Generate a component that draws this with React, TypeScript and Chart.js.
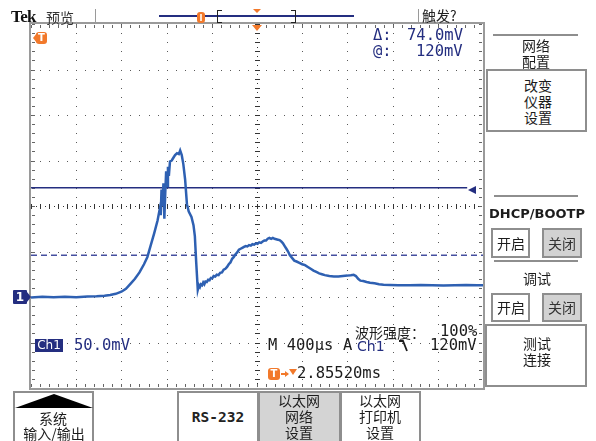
import React, { useEffect, useRef } from "react";
import { Chart, registerables } from "chart.js";

Chart.register(...registerables);

// ---- data (time in µs relative to trigger, amplitude in mV) ----
const traceTimeUs = [
  -2000, -1900, -1800, -1700, -1600, -1500, -1420, -1350, -1300, -1250, -1200, -1160, -1120, -1080, -1040, -1000,
  -970, -940, -910, -880, -860, -852, -845, -836, -828, -820, -812, -804, -796, -788, -780, -770, -755, -740,
  -725, -708, -692, -680, -666, -652, -636, -620, -604, -580, -562, -550, -538, -524, -514, -505, -496, -486,
  -476, -466, -456, -444, -432, -420, -408, -396, -384, -370, -356, -340, -326, -310, -295, -280, -265, -250,
  -235, -220, -205, -190, -175, -160, -145, -130, -115, -100, -85, -70, -55, -40, -25, -10, 5, 20, 35, 50, 65,
  80, 95, 110, 125, 140, 155, 170, 185, 200, 215, 230, 245, 260, 275, 290, 310, 330, 350, 375, 400, 425, 450,
  475, 500, 525, 550, 575, 600, 640, 680, 720, 760, 800, 830, 855, 875, 895, 915, 940, 970, 1000, 1040, 1080,
  1120, 1180, 1250, 1350, 1450, 1550, 1650, 1750, 1850, 1950, 2000,
];
const traceMv = [
  -0.5, 0.3, -0.4, 0.2, -0.3, 0.6, 0.8, 1.5, 2.3, 3.5, 5.8, 9, 14.5, 20, 27, 36,
  44, 57, 70, 84, 97, 90, 118, 100, 125, 86, 114, 138, 122, 143, 133, 149, 150, 153,
  156, 158, 157, 161, 156, 146, 129, 102, 94, 88, 79, 67, 38, 8, 13, 11, 14, 13,
  16, 14, 17, 16.5, 19, 18.5, 21, 20.5, 23, 22.5, 24.5, 24, 26.5, 27, 30, 31, 33, 36,
  38, 42, 44, 47, 49, 52, 53, 54, 55, 56, 55.5, 57, 56.5, 58, 57.5, 59, 58.5, 60, 59.5, 61, 62,
  62, 64, 65, 64, 65, 64, 63.5, 63, 62.5, 61, 59, 56, 53, 50, 46, 43, 40, 39, 37.5, 36, 35, 33,
  31, 29, 27.5, 26, 25, 24, 23, 22.5, 22.5, 23, 23.5, 24, 24.5, 23, 20, 18, 17.5, 16.5, 15.6, 15, 14,
  13.5, 13.2, 13, 12.8, 13.2, 13, 12.7, 13, 13.2, 12.9, 13,
];
const cursorLevelsMv = [120, 46];
const solidCursorEndUs = 1860;
const timeRangeUs = [-2000, 2000];
const voltRangeMv = [-100, 300];
const timePerDivUs = 400;
const voltPerDivMv = 50;

// ---- styles ----
const NAVY = "rgb(36,46,128)";
const ORANGE = "#f2792b";
const INK = "#1c1c1c";
const CJK = '"Noto Sans CJK SC", sans-serif';
const MONO = '"DejaVu Sans Mono", monospace';
const BOXBORDER = "#8e8e8e";

const graticule = {
  id: "graticule",
  beforeDatasetsDraw(chart: any) {
    const { ctx, chartArea: a, scales } = chart;
    const xs = scales.x;
    const ys = scales.y;
    const px = (t: number) => Math.round(xs.getPixelForValue(t));
    const py = (v: number) => Math.round(ys.getPixelForValue(v));
    const [t0, t1] = timeRangeUs;
    const [v0, v1] = voltRangeMv;
    const tc = (t0 + t1) / 2;
    const vc = (v0 + v1) / 2;
    ctx.save();
    ctx.fillStyle = "#5a5a5a";
    for (let t = t0 + timePerDivUs; t < t1; t += timePerDivUs) {
      if (t === tc) continue;
      for (let v = v0; v <= v1; v += voltPerDivMv / 5) ctx.fillRect(px(t), py(v), 1, 1);
    }
    for (let v = v0 + voltPerDivMv; v < v1; v += voltPerDivMv) {
      if (v === vc) continue;
      for (let t = t0; t <= t1; t += timePerDivUs / 5) ctx.fillRect(px(t), py(v), 1, 1);
    }
    ctx.fillStyle = "#333";
    for (let t = t0; t <= t1; t += timePerDivUs / 10) ctx.fillRect(px(t), py(vc), 1, 1);
    for (let t = t0; t <= t1; t += timePerDivUs / 5) ctx.fillRect(px(t), py(vc) - 2, 1, 5);
    for (let v = v0; v <= v1; v += voltPerDivMv / 10) ctx.fillRect(px(tc), py(v), 1, 1);
    for (let v = v0; v <= v1; v += voltPerDivMv / 5) ctx.fillRect(px(tc) - 2, py(v), 5, 1);
    ctx.fillStyle = "#666";
    for (let t = t0; t <= t1; t += timePerDivUs / 5) {
      ctx.fillRect(px(t), Math.round(a.top) + 1, 1, 3);
      ctx.fillRect(px(t), Math.round(a.bottom) - 4, 1, 3);
    }
    for (let v = v0; v <= v1; v += voltPerDivMv / 5) {
      ctx.fillRect(Math.round(a.left) + 1, py(v), 3, 1);
      ctx.fillRect(Math.round(a.right) - 4, py(v), 3, 1);
    }
    ctx.strokeStyle = "#9a9a9a";
    ctx.lineWidth = 2;
    ctx.strokeRect(Math.round(a.left) - 1, Math.round(a.top) - 1, Math.round(a.right - a.left) + 2, Math.round(a.bottom - a.top) + 2);
    ctx.restore();
  },
};

type TP = {
  x: number;
  y: number;
  children: React.ReactNode;
  size?: number;
  color?: string;
  font?: string;
  weight?: number;
  center?: boolean;
  ls?: number;
};
const Txt = ({ x, y, children, size = 14, color = INK, font = CJK, weight = 400, center = false, ls = 0 }: TP) => {
  const lh = size + 4;
  return (
    <div
      style={{
        position: "absolute",
        left: x,
        top: y - lh / 2,
        lineHeight: lh + "px",
        fontSize: size,
        fontFamily: font,
        fontWeight: weight,
        color,
        whiteSpace: "nowrap",
        letterSpacing: ls,
        transform: center ? "translateX(-50%)" : undefined,
      }}
    >
      {children}
    </div>
  );
};

const Box = ({ x, y, w, h, fill = "#fff" }: { x: number; y: number; w: number; h: number; fill?: string }) => (
  <div
    style={{
      position: "absolute",
      left: x,
      top: y,
      width: w,
      height: h,
      boxSizing: "border-box",
      border: `2px solid ${BOXBORDER}`,
      background: fill,
    }}
  />
);

const HLine = ({ x1, x2, y, color = BOXBORDER, w = 2 }: { x1: number; x2: number; y: number; color?: string; w?: number }) => (
  <div style={{ position: "absolute", left: x1, top: y - w / 2, width: x2 - x1, height: w, background: color }} />
);
const VLine = ({ x, y1, y2, color = "#9a9a9a", w = 1 }: { x: number; y1: number; y2: number; color?: string; w?: number }) => (
  <div style={{ position: "absolute", left: x, top: y1, width: w, height: y2 - y1, background: color }} />
);

const Tri = ({ x, y, w, h, dir, color }: { x: number; y: number; w: number; h: number; dir: "down" | "left" | "right" | "up"; color: string }) => {
  const s: React.CSSProperties = { position: "absolute", left: x, top: y, width: 0, height: 0 };
  if (dir === "down") Object.assign(s, { borderLeft: `${w / 2}px solid transparent`, borderRight: `${w / 2}px solid transparent`, borderTop: `${h}px solid ${color}` });
  if (dir === "up") Object.assign(s, { borderLeft: `${w / 2}px solid transparent`, borderRight: `${w / 2}px solid transparent`, borderBottom: `${h}px solid ${color}` });
  if (dir === "left") Object.assign(s, { borderTop: `${h / 2}px solid transparent`, borderBottom: `${h / 2}px solid transparent`, borderRight: `${w}px solid ${color}` });
  if (dir === "right") Object.assign(s, { borderTop: `${h / 2}px solid transparent`, borderBottom: `${h / 2}px solid transparent`, borderLeft: `${w}px solid ${color}` });
  return <div style={s} />;
};

const Badge = ({ x, y, w, h, bg, children, size = 12, font = '"DejaVu Sans", sans-serif', weight = 700, radius = 2 }: any) => (
  <div
    style={{
      position: "absolute",
      left: x,
      top: y,
      width: w,
      height: h,
      background: bg,
      color: "#fff",
      borderRadius: radius,
      fontFamily: font,
      fontWeight: weight,
      fontSize: size,
      lineHeight: h + "px",
      textAlign: "center",
    }}
  >
    {children}
  </div>
);

export default function App() {
  const ref = useRef<HTMLCanvasElement>(null);
  useEffect(() => {
    const traceData = traceTimeUs.map((t, i) => ({ x: t, y: traceMv[i] }));
    const chart = new Chart(ref.current as HTMLCanvasElement, {
      type: "line",
      data: {
        datasets: [
          { data: traceData, borderColor: "rgb(46,96,178)", borderWidth: 2.5, pointRadius: 0, tension: 0, fill: false },
          {
            data: [
              { x: timeRangeUs[0], y: cursorLevelsMv[0] },
              { x: solidCursorEndUs, y: cursorLevelsMv[0] },
            ],
            borderColor: NAVY,
            borderWidth: 1.5,
            pointRadius: 0,
          },
          {
            data: [
              { x: timeRangeUs[0], y: cursorLevelsMv[1] },
              { x: timeRangeUs[1], y: cursorLevelsMv[1] },
            ],
            borderColor: "rgb(70,80,160)",
            borderWidth: 1.5,
            borderDash: [6, 4],
            pointRadius: 0,
          },
        ],
      } as any,
      options: {
        animation: false,
        responsive: false,
        events: [],
        layout: { padding: { left: 31, top: 24, right: 113, bottom: 53 } },
        plugins: { legend: { display: false }, tooltip: { enabled: false } },
        scales: {
          x: { type: "linear", min: timeRangeUs[0], max: timeRangeUs[1], display: false },
          y: { type: "linear", min: voltRangeMv[0], max: voltRangeMv[1], display: false },
        },
      },
      plugins: [graticule],
    });
    return () => chart.destroy();
  }, []);

  return (
    <div style={{ position: "fixed", left: 0, top: 0, width: 596, height: 441, background: "#fff", overflow: "hidden" }}>
      <canvas ref={ref} width={596} height={441} style={{ position: "absolute", left: 0, top: 0 }} />

      {/* top bar */}
      <Txt x={11} y={16} size={17} font='"Liberation Serif", serif' weight={700} ls={-0.6} color="#111">Tek</Txt>
      <Txt x={46} y={17} size={14} color="#333">预览</Txt>
      <VLine x={95} y1={9} y2={24} />
      <HLine x1={159} x2={354} y={16} color={NAVY} w={1.5} />
      <div style={{ position: "absolute", left: 197, top: 12, width: 8, height: 11, background: ORANGE, borderRadius: 3 }} />
      <div style={{ position: "absolute", left: 200, top: 14, width: 2, height: 7, background: "#fde2cc" }} />
      <div style={{ position: "absolute", left: 217, top: 10, width: 4, height: 11, borderLeft: "1.5px solid #222", borderTop: "1.5px solid #222", borderBottom: "1.5px solid #222" }} />
      <div style={{ position: "absolute", left: 291, top: 10, width: 4, height: 11, borderRight: "1.5px solid #222", borderTop: "1.5px solid #222", borderBottom: "1.5px solid #222" }} />
      <Tri x={253} y={9} w={8} h={4} dir="down" color={ORANGE} />
      <VLine x={418} y1={9} y2={24} />
      <Txt x={422} y={15} size={14} color="#222">触发?</Txt>

      {/* plot markers */}
      <Tri x={252} y={25} w={10} h={6} dir="down" color={ORANGE} />
      <Tri x={33} y={33} w={4} h={10} dir="left" color={ORANGE} />
      <Badge x={36} y={32} w={11} h={12} bg={ORANGE} size={10} radius={3}>T</Badge>
      <Badge x={13} y={290} w={14} h={14} bg={NAVY} size={12} radius={1}>1</Badge>
      <Tri x={27} y={292} w={4} h={10} dir="right" color={NAVY} />
      <Tri x={468} y={186} w={8} h={8} dir="left" color={NAVY} />

      {/* cursor readouts */}
      <Txt x={373} y={36} size={15.5} font={MONO} color={NAVY}>Δ:</Txt>
      <Txt x={407} y={36} size={15.5} font={MONO} color={NAVY}>74.0mV</Txt>
      <Txt x={373} y={52} size={15.5} font={MONO} color={NAVY}>@:</Txt>
      <Txt x={416} y={52} size={15.5} font={MONO} color={NAVY}>120mV</Txt>

      {/* bottom readouts */}
      <Badge x={35} y={339} w={28} h={13} bg={NAVY} size={12} weight={400} radius={0}>Ch1</Badge>
      <Txt x={74} y={346} size={15.5} font={MONO} color={NAVY}>50.0mV</Txt>
      <Txt x={355} y={332} size={14} color={INK}>波形强度：</Txt>
      <Txt x={440} y={332} size={15.5} font={MONO} color={INK}>100%</Txt>
      <Txt x={268} y={346} size={15.5} font={MONO} color={INK}>M 400µs</Txt>
      <Txt x={343} y={346} size={15.5} font={MONO} color={INK}>A</Txt>
      <Txt x={357} y={346} size={14} font={'"DejaVu Sans", sans-serif'} color={NAVY}>Ch1</Txt>
      <svg style={{ position: "absolute", left: 398, top: 339 }} width={10} height={14}>
        <polyline points="1,2 5,2 9,12" fill="none" stroke={INK} strokeWidth={1.8} />
      </svg>
      <Txt x={430} y={346} size={15.5} font={MONO} color={INK}>120mV</Txt>
      <Badge x={268} y={368} w={12} h={12} bg={ORANGE} size={10} radius={3}>T</Badge>
      <HLine x1={281} x2={288} y={374} color={ORANGE} w={1.5} />
      <Tri x={285} y={371} w={4} h={6} dir="right" color={ORANGE} />
      <Tri x={289} y={369} w={8} h={6} dir="down" color={ORANGE} />
      <Txt x={297} y={374} size={15.5} font={MONO} color={INK}>2.85520ms</Txt>

      {/* right menu */}
      <HLine x1={493} x2={578} y={35} />
      <Txt x={536} y={45} center size={14}>网络</Txt>
      <Txt x={536} y={61} center size={14}>配置</Txt>
      <Box x={486} y={69} w={101} h={63} />
      <Txt x={538} y={85} center size={14}>改变</Txt>
      <Txt x={538} y={101} center size={14}>仪器</Txt>
      <Txt x={538} y={117} center size={14}>设置</Txt>
      <HLine x1={494} x2={578} y={196} />
      <Txt x={537} y={213} center size={13} font={'"DejaVu Sans", sans-serif'} weight={700}>DHCP/BOOTP</Txt>
      <Box x={491} y={228} w={39} h={30} />
      <Txt x={511} y={243} center size={14}>开启</Txt>
      <Box x={542} y={228} w={40} h={30} fill="#d2d2d2" />
      <Txt x={562} y={243} center size={14} color="#333">关闭</Txt>
      <HLine x1={494} x2={578} y={261} />
      <Txt x={537} y={278} center size={14}>调试</Txt>
      <Box x={491} y={293} w={39} h={29} />
      <Txt x={511} y={307} center size={14}>开启</Txt>
      <Box x={542} y={293} w={40} h={29} fill="#d2d2d2" />
      <Txt x={562} y={307} center size={14} color="#333">关闭</Txt>
      <Box x={485} y={324} w={102} h={63} />
      <Txt x={537} y={343} center size={14}>测试</Txt>
      <Txt x={537} y={359} center size={14}>连接</Txt>

      {/* bottom menu */}
      <Box x={13} y={391} w={81} h={55} />
      <Tri x={15} y={394} w={78} h={14} dir="up" color="#000" />
      <Txt x={53} y={418} center size={14}>系统</Txt>
      <Txt x={54} y={433} center size={14}>输入/输出</Txt>
      <Box x={177} y={391} w={82} h={55} />
      <Txt x={218} y={417} center size={14.5} font={MONO} weight={700} color="#222">RS-232</Txt>
      <Box x={258} y={391} w={83} h={55} fill="#d4d4d4" />
      <Txt x={299} y={400} center size={14}>以太网</Txt>
      <Txt x={299} y={416} center size={14}>网络</Txt>
      <Txt x={299} y={432} center size={14}>设置</Txt>
      <Box x={340} y={391} w={81} h={55} />
      <Txt x={380} y={400} center size={14}>以太网</Txt>
      <Txt x={380} y={416} center size={14}>打印机</Txt>
      <Txt x={380} y={432} center size={14}>设置</Txt>
    </div>
  );
}
